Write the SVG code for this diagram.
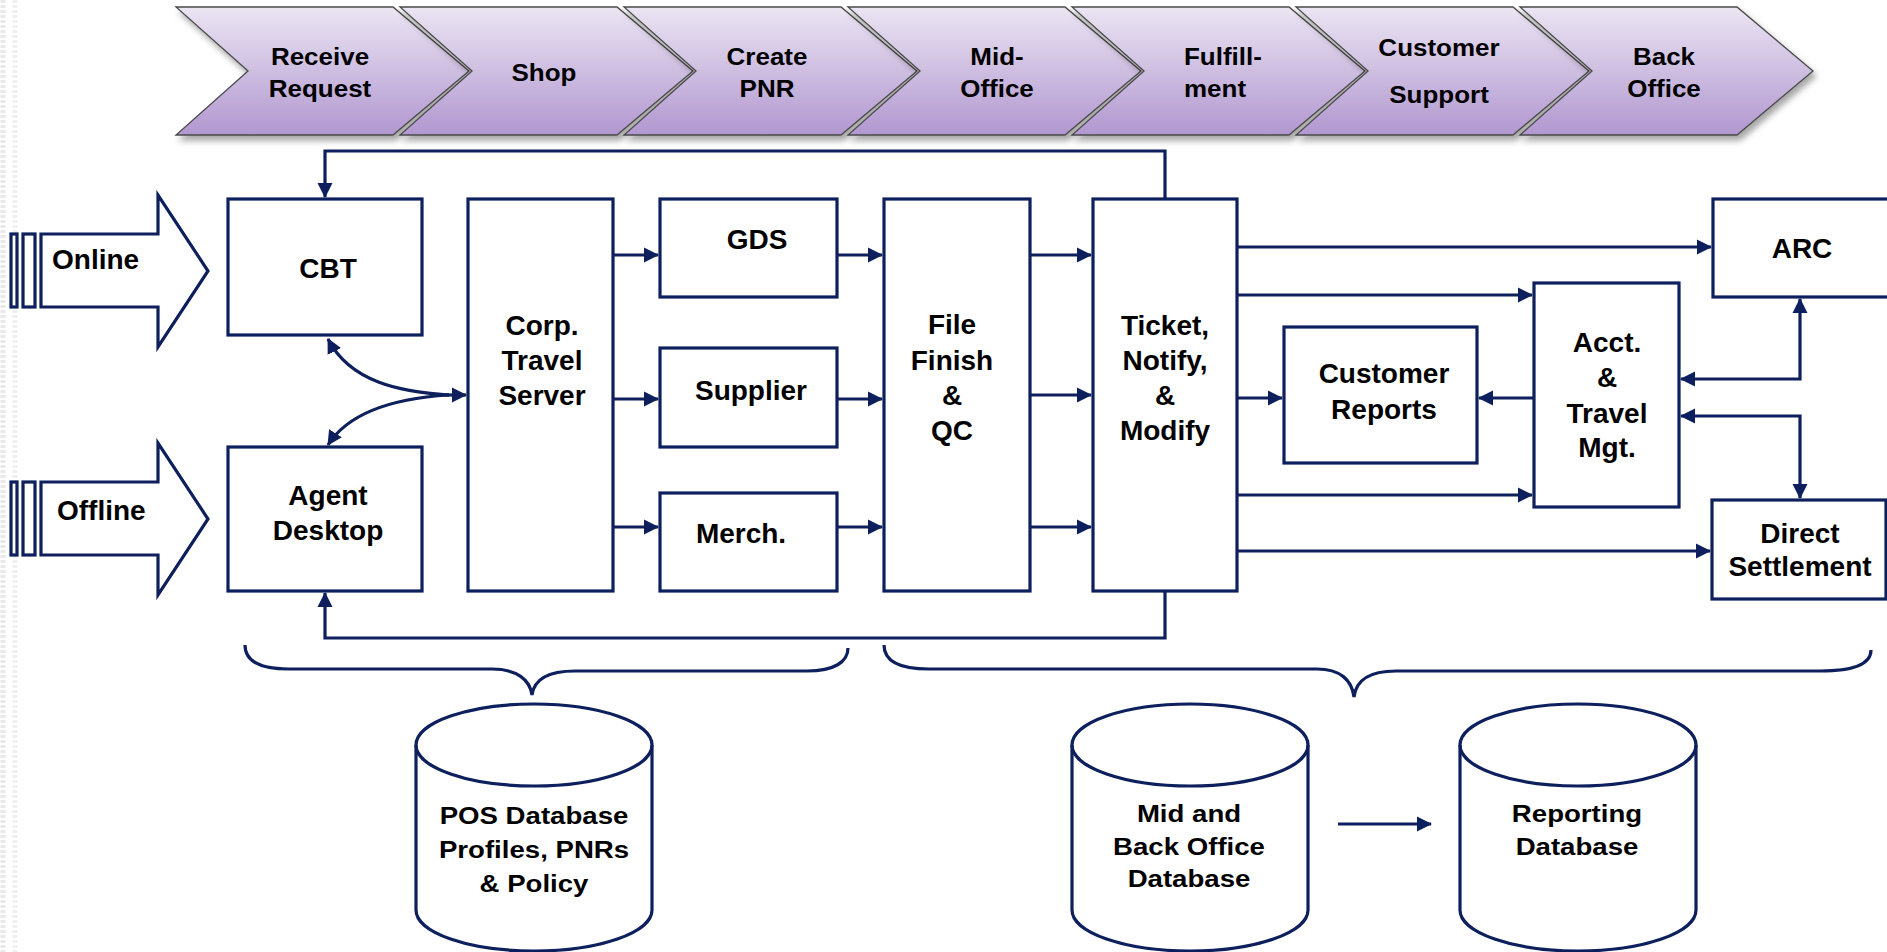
<svg xmlns="http://www.w3.org/2000/svg" width="1887" height="952" viewBox="0 0 1887 952">
<defs>
<linearGradient id="chev" x1="0" y1="0" x2="0" y2="1">
<stop offset="0" stop-color="#ebe5f3"/>
<stop offset="1" stop-color="#b197d0"/>
</linearGradient>
<filter id="sh" x="-5%" y="-10%" width="115%" height="130%">
<feDropShadow dx="3" dy="5" stdDeviation="3" flood-color="#000" flood-opacity="0.35"/>
</filter>
<marker id="ah" markerUnits="userSpaceOnUse" markerWidth="16" markerHeight="16" viewBox="0 0 16 16" refX="14" refY="8" orient="auto-start-reverse">
<path d="M0,0.5 L15,8 L0,15.5 Z" fill="#0d1f5c"/>
</marker>
<path id="chevshape" d="M0,7 L217,7 L293,71 L217,135 L0,135 L72,71 Z"/>
<path id="inarrow" d="M41,234 L158,234 L158,195 L208,271 L158,347 L158,307 L41,307 Z"/>
</defs>
<style>
.chev { fill:url(#chev); stroke:#4a4a4a; stroke-width:1.3; filter:url(#sh); }
.box { fill:#fff; stroke:#0d1f5c; stroke-width:3.2; }
.ln { fill:none; stroke:#0d1f5c; stroke-width:3.2; }
.arr { fill:none; stroke:#0d1f5c; stroke-width:3.2; marker-end:url(#ah); }
.arr2 { fill:none; stroke:#0d1f5c; stroke-width:3.2; marker-start:url(#ah); marker-end:url(#ah); }
.t { font-family:"Liberation Sans", Arial, sans-serif; font-weight:bold; font-size:28px; text-anchor:middle; fill:#000; }
.tc { font-family:"Liberation Sans", Arial, sans-serif; font-weight:bold; font-size:23px; text-anchor:middle; fill:#000; }
.td { font-family:"Liberation Sans", Arial, sans-serif; font-weight:bold; font-size:24px; text-anchor:middle; fill:#000; }
.tl { font-family:"Liberation Sans", Arial, sans-serif; font-weight:bold; font-size:28px; text-anchor:start; fill:#000; }
</style>
<rect width="1887" height="952" fill="#fff"/>
<line x1="3" y1="0" x2="3" y2="952" stroke="#e8e8e8" stroke-width="5" stroke-dasharray="3,2"/>
<line x1="15" y1="0" x2="15" y2="952" stroke="#f0f0f0" stroke-width="5" stroke-dasharray="3,2"/>

<g id="process-steps">
<g id="step-receive"><use href="#chevshape" class="chev" transform="translate(176,0)"/>
<g transform="translate(320,0) scale(1.13,1)"><text class="tc" x="0" y="65">Receive</text><text class="tc" x="0" y="97">Request</text></g></g>
<g id="step-shop"><use href="#chevshape" class="chev" transform="translate(400,0)"/>
<g transform="translate(544,0) scale(1.13,1)"><text class="tc" x="0" y="81">Shop</text></g></g>
<g id="step-create"><use href="#chevshape" class="chev" transform="translate(624,0)"/>
<g transform="translate(767,0) scale(1.13,1)"><text class="tc" x="0" y="65">Create</text><text class="tc" x="0" y="97">PNR</text></g></g>
<g id="step-mid"><use href="#chevshape" class="chev" transform="translate(848,0)"/>
<g transform="translate(997,0) scale(1.13,1)"><text class="tc" x="0" y="65">Mid-</text><text class="tc" x="0" y="97">Office</text></g></g>
<g id="step-fulfill"><use href="#chevshape" class="chev" transform="translate(1072,0)"/>
<g transform="translate(1184,0) scale(1.13,1)"><text class="tc" x="0" y="65" style="text-anchor:start">Fulfill-</text><text class="tc" x="0" y="97" style="text-anchor:start">ment</text></g></g>
<g id="step-support"><use href="#chevshape" class="chev" transform="translate(1296,0)"/>
<g transform="translate(1439,0) scale(1.13,1)"><text class="tc" x="0" y="56">Customer</text><text class="tc" x="0" y="103">Support</text></g></g>
<g id="step-back"><use href="#chevshape" class="chev" transform="translate(1520,0)"/>
<g transform="translate(1664,0) scale(1.13,1)"><text class="tc" x="0" y="65">Back</text><text class="tc" x="0" y="97">Office</text></g></g>
</g>

<g id="online">
<rect class="box" x="11" y="234" width="6" height="73"/>
<rect class="box" x="23" y="234" width="12" height="73"/>
<use href="#inarrow" class="box"/>
<text class="tl" x="52" y="269">Online</text>
</g>
<g id="offline">
<g transform="translate(0,248)">
<rect class="box" x="11" y="234" width="6" height="73"/>
<rect class="box" x="23" y="234" width="12" height="73"/>
<use href="#inarrow" class="box"/>
</g>
<text class="tl" x="57" y="520">Offline</text>
</g>

<g id="connectors">
<path class="arr" d="M1165,199 V151 H325 V197"/>
<path class="arr" d="M1165,591 V638 H325 V593"/>
<path class="arr" d="M449,395 C400,392 350,382 328,339"/>
<path class="arr" d="M449,395 C400,398 350,410 328,445"/>
<path class="arr" d="M445,395 L466,395"/>
<path class="arr" d="M613,255 L658,255"/>
<path class="arr" d="M613,399 L658,399"/>
<path class="arr" d="M613,527 L658,527"/>
<path class="arr" d="M837,255 L882,255"/>
<path class="arr" d="M837,399 L882,399"/>
<path class="arr" d="M837,527 L882,527"/>
<path class="arr" d="M1030,255 L1091,255"/>
<path class="arr" d="M1030,395 L1091,395"/>
<path class="arr" d="M1030,527 L1091,527"/>
<path class="arr" d="M1237,247 L1711,247"/>
<path class="arr" d="M1237,295 L1532,295"/>
<path class="arr" d="M1237,398 L1282,398"/>
<path class="arr" d="M1237,495 L1532,495"/>
<path class="arr" d="M1237,551 L1710,551"/>
<path class="arr" d="M1534,398 L1479,398"/>
<path class="arr2" d="M1681,379 L1800,379 L1800,299"/>
<path class="arr2" d="M1681,416 L1800,416 L1800,498"/>
<path class="arr" d="M1338,824 L1431,824"/>
<path class="ln" d="M245,645 C245,662 262,669 289,669 L492,669 C517,669 530,680 532,695 C534,680 548,671 575,671 L807,671 C834,671 848,662 848,648"/>
<path class="ln" d="M884,645 C884,662 902,669 929,669 L1317,669 C1340,669 1352,680 1354,697 C1356,680 1370,671 1396,671 L1820,671 C1855,671 1871,664 1871,650"/>
</g>

<g id="cbt"><rect class="box" x="228" y="199" width="194" height="136"/><text class="t" x="328" y="278">CBT</text></g>
<g id="agent-desktop"><rect class="box" x="228" y="447" width="194" height="144"/><text class="t" x="328" y="505">Agent</text><text class="t" x="328" y="540">Desktop</text></g>
<g id="corp-travel-server"><rect class="box" x="468" y="199" width="145" height="392"/><text class="t" x="542" y="335">Corp.</text><text class="t" x="542" y="370">Travel</text><text class="t" x="542" y="405">Server</text></g>
<g id="gds"><rect class="box" x="660" y="199" width="177" height="98"/><text class="t" x="757" y="249">GDS</text></g>
<g id="supplier"><rect class="box" x="660" y="348" width="177" height="99"/><text class="t" x="751" y="400">Supplier</text></g>
<g id="merch"><rect class="box" x="660" y="493" width="177" height="98"/><text class="t" x="741" y="543">Merch.</text></g>
<g id="file-finish"><rect class="box" x="884" y="199" width="146" height="392"/><text class="t" x="952" y="334">File</text><text class="t" x="952" y="370">Finish</text><text class="t" x="952" y="405">&amp;</text><text class="t" x="952" y="440">QC</text></g>
<g id="ticket"><rect class="box" x="1093" y="199" width="144" height="392"/><text class="t" x="1165" y="335">Ticket,</text><text class="t" x="1165" y="370">Notify,</text><text class="t" x="1165" y="405">&amp;</text><text class="t" x="1165" y="440">Modify</text></g>
<g id="customer-reports"><rect class="box" x="1284" y="327" width="193" height="136"/><text class="t" x="1384" y="383">Customer</text><text class="t" x="1384" y="419">Reports</text></g>
<g id="acct"><rect class="box" x="1534" y="283" width="145" height="224"/><text class="t" x="1607" y="352">Acct.</text><text class="t" x="1607" y="387">&amp;</text><text class="t" x="1607" y="423">Travel</text><text class="t" x="1607" y="457">Mgt.</text></g>
<g id="arc"><rect class="box" x="1713" y="199" width="182" height="98"/><text class="t" x="1802" y="258">ARC</text></g>
<g id="direct-settlement"><rect class="box" x="1712" y="500" width="174" height="99"/><text class="t" x="1800" y="543">Direct</text><text class="t" x="1800" y="576">Settlement</text></g>

<g id="pos-db">
<path class="box" d="M416,745 A118,41 0 0 1 652,745 L652,910 A118,41 0 0 1 416,910 Z"/>
<path class="ln" d="M416,745 A118,41 0 0 0 652,745"/>
<g transform="translate(534,0) scale(1.15,1)"><text class="td" x="0" y="824">POS Database</text><text class="td" x="0" y="858">Profiles, PNRs</text><text class="td" x="0" y="892">&amp; Policy</text></g>
</g>
<g id="mid-back-db">
<path class="box" d="M1072,745 A118,41 0 0 1 1308,745 L1308,910 A118,41 0 0 1 1072,910 Z"/>
<path class="ln" d="M1072,745 A118,41 0 0 0 1308,745"/>
<g transform="translate(1189,0) scale(1.15,1)"><text class="td" x="0" y="822">Mid and</text><text class="td" x="0" y="855">Back Office</text><text class="td" x="0" y="887">Database</text></g>
</g>
<g id="reporting-db">
<path class="box" d="M1460,745 A118,41 0 0 1 1696,745 L1696,910 A118,41 0 0 1 1460,910 Z"/>
<path class="ln" d="M1460,745 A118,41 0 0 0 1696,745"/>
<g transform="translate(1577,0) scale(1.15,1)"><text class="td" x="0" y="822">Reporting</text><text class="td" x="0" y="855">Database</text></g>
</g>
</svg>
